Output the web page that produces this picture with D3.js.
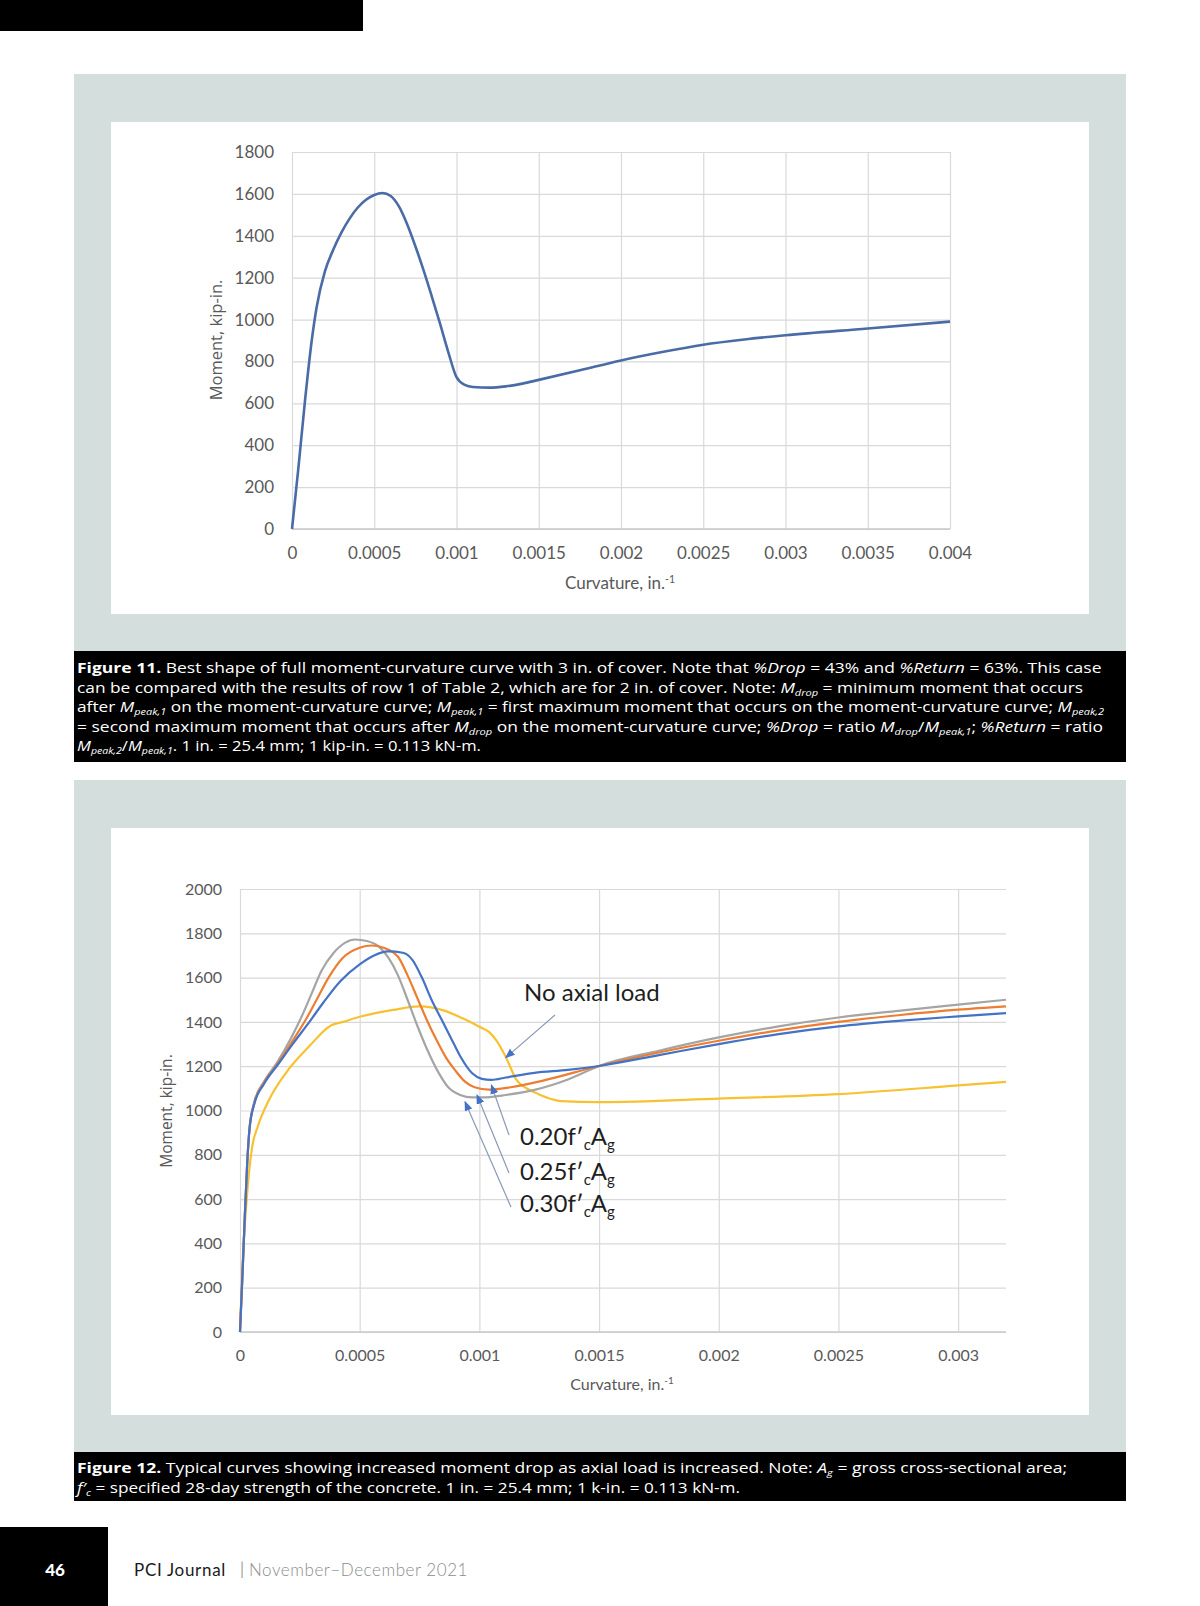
<!DOCTYPE html>
<html><head><meta charset="utf-8">
<script src="https://cdn.jsdelivr.net/npm/d3@7"></script>
<style>
html,body{margin:0;padding:0;}
body{width:1200px;height:1606px;position:relative;background:#fff;overflow:hidden;font-family:Lato,sans-serif;}
#page{position:absolute;left:0;top:0;}
.ln{position:absolute;left:77px;white-space:nowrap;color:#fff;font-family:'Open Sans',sans-serif;font-size:14.2px;line-height:19px;height:19px;transform-origin:0 50%;}
.ln b{font-weight:700;}
.ln sub{font-size:9px;vertical-align:-3px;line-height:0;}
.ft{position:absolute;white-space:nowrap;font-family:Lato,sans-serif;font-size:17px;line-height:20px;}
</style></head><body>
<svg id="page" width="1200" height="1606"></svg>
<div id="caps"></div>
<script>
// ---------------- DATA ----------------
// Figure 11
const fig11Curv = [0, 0.00004, 0.00008, 0.00012, 0.00015, 0.0002, 0.00025, 0.0003, 0.00035, 0.0004, 0.00045, 0.0005, 0.00055, 0.0006, 0.00065, 0.0007, 0.00075, 0.0008, 0.00085, 0.0009, 0.00095, 0.001, 0.00105, 0.0011, 0.0012, 0.0013, 0.0014, 0.0015, 0.00175, 0.002, 0.00225, 0.0025, 0.00275, 0.003, 0.0035, 0.004];
const fig11Moment = [0, 300, 620, 900, 1060, 1230, 1332, 1415, 1482, 1535, 1572, 1595, 1604, 1590, 1540, 1455, 1350, 1235, 1110, 980, 845, 725, 688, 678, 675, 681, 694, 712, 758, 805, 845, 880, 905, 925, 957, 990];
const fig11YTicks = [0, 200, 400, 600, 800, 1000, 1200, 1400, 1600, 1800];
const fig11XTicks = [0, 0.0005, 0.001, 0.0015, 0.002, 0.0025, 0.003, 0.0035, 0.004];
const fig11XLabels = ["0", "0.0005", "0.001", "0.0015", "0.002", "0.0025", "0.003", "0.0035", "0.004"];

// Figure 12
const curv020 = [0, 0.00001, 0.00002, 0.00003, 0.00004, 0.00006, 0.0001, 0.00016, 0.00022, 0.00029, 0.00035, 0.00042, 0.0005, 0.00056, 0.00062, 0.00068, 0.00072, 0.00076, 0.0008, 0.00084, 0.00088, 0.00092, 0.00097, 0.00101, 0.00105, 0.00111, 0.00123, 0.00137, 0.0015, 0.00175, 0.002, 0.00225, 0.0025, 0.00275, 0.003, 0.0032];
const moment020 = [0, 250, 520, 760, 920, 1030, 1120, 1210, 1300, 1400, 1490, 1585, 1660, 1700, 1718, 1712, 1680, 1600, 1500, 1415, 1330, 1245, 1168, 1143, 1138, 1149, 1170, 1183, 1201, 1250, 1300, 1345, 1380, 1405, 1425, 1440];
const curv025 = [0, 0.00001, 0.00002, 0.00003, 0.00004, 0.00006, 0.0001, 0.00016, 0.00022, 0.00028, 0.00032, 0.00037, 0.00043, 0.0005, 0.00055, 0.0006, 0.00066, 0.0007, 0.00074, 0.00078, 0.00082, 0.00086, 0.0009, 0.00094, 0.00098, 0.00104, 0.00113, 0.00127, 0.0015, 0.00175, 0.002, 0.00225, 0.0025, 0.00275, 0.003, 0.0032];
const moment025 = [0, 250, 520, 760, 920, 1035, 1125, 1215, 1315, 1420, 1500, 1600, 1690, 1735, 1745, 1735, 1694, 1610, 1510, 1410, 1320, 1240, 1180, 1130, 1105, 1094, 1105, 1136, 1201, 1262, 1315, 1362, 1400, 1430, 1455, 1470];
const curv030 = [0, 0.00001, 0.00002, 0.00003, 0.00004, 0.00006, 0.0001, 0.00016, 0.00021, 0.00026, 0.0003, 0.00034, 0.00039, 0.00044, 0.00048, 0.00053, 0.00058, 0.00062, 0.00066, 0.0007, 0.00074, 0.00078, 0.00083, 0.00087, 0.00092, 0.00097, 0.00101, 0.00111, 0.00123, 0.00137, 0.0015, 0.00175, 0.002, 0.00225, 0.0025, 0.00275, 0.003, 0.0032];
const moment030 = [0, 250, 520, 760, 920, 1040, 1130, 1225, 1320, 1430, 1530, 1630, 1710, 1758, 1772, 1765, 1740, 1690, 1610, 1500, 1385, 1280, 1170, 1105, 1070, 1059, 1059, 1070, 1093, 1140, 1201, 1270, 1330, 1380, 1420, 1450, 1478, 1500];
const curvNoAxial = [0, 0.00001, 0.000028, 0.00005, 0.000075, 0.00012, 0.00019, 0.00029, 0.00038, 0.00043, 0.0005, 0.00064, 0.00075, 0.00085, 0.00093, 0.001, 0.00104, 0.00107, 0.00111, 0.001155, 0.0012, 0.001245, 0.0013, 0.00134, 0.0015, 0.002, 0.0025, 0.003, 0.0032];
const momentNoAxial = [0, 290, 600, 830, 930, 1045, 1167, 1291, 1384, 1400, 1423, 1454, 1470, 1452, 1416, 1378, 1355, 1318, 1243, 1138, 1098, 1075, 1052, 1042, 1038, 1054, 1074, 1113, 1129];
const fig12YTicks = [0, 200, 400, 600, 800, 1000, 1200, 1400, 1600, 1800, 2000];
const fig12XTicks = [0, 0.0005, 0.001, 0.0015, 0.002, 0.0025, 0.003];
const fig12XLabels = ["0", "0.0005", "0.001", "0.0015", "0.002", "0.0025", "0.003"];

// ---------------- PAGE ----------------
const PANEL = "#d4dedd";
const svg = d3.select("#page");
function rect(x, y, w, h, fill) {
  svg.append("rect").attr("x", x).attr("y", y).attr("width", w).attr("height", h).attr("fill", fill);
}
rect(0, 0, 363, 31, "#000");
rect(74, 74, 1052, 577, PANEL);
rect(111, 122, 978, 492, "#fff");
rect(74, 651, 1052, 111, "#000");
rect(74, 780, 1052, 672, PANEL);
rect(111, 828, 978, 587, "#fff");
rect(74, 1452, 1052, 49, "#000");
rect(0, 1527, 108, 79, "#000");

const GRID = "#d9d9d9";
const LABEL = "#595959";

function drawAxes(g, x, y, xTicks, xLabels, yTicks, fs, xLabOff, yLabOff, rightEdge) {
  const x0 = x(0), x1 = rightEdge;
  const [yb, yt] = y.range();
  const ya = g.append("g").attr("transform", `translate(${x0},0)`)
    .call(d3.axisLeft(y).tickValues(yTicks).tickSize(-(x1 - x0)).tickPadding(yLabOff).tickFormat(d => String(d)));
  ya.select(".domain").remove();
  ya.selectAll("line").attr("stroke", GRID).attr("stroke-width", 1.2);
  ya.selectAll("text").attr("fill", LABEL).style("font-family", "Lato").style("font-size", fs + "px");
  const xa = g.append("g").attr("transform", `translate(0,${yb})`)
    .call(d3.axisBottom(x).tickValues(xTicks).tickSize(-(yb - yt)).tickPadding(0).tickFormat((d, i) => xLabels[i]));
  xa.select(".domain").remove();
  xa.selectAll("line").attr("stroke", GRID).attr("stroke-width", 1.2);
  xa.selectAll("text").attr("fill", LABEL).attr("y", xLabOff).attr("dy", "0.35em")
    .style("font-family", "Lato").style("font-size", fs + "px");
  g.append("line").attr("x1", x0).attr("x2", x1).attr("y1", yb).attr("y2", yb).attr("stroke", "#c8c8c8").attr("stroke-width", 1.3);
}

function axisTitles(g, cx, cy, xTitleFs, yx, yy, yTitleFs) {
  const t = g.append("text").attr("x", cx).attr("y", cy).attr("dy", "0.35em").attr("text-anchor", "middle")
    .attr("fill", LABEL).style("font-family", "Lato").style("font-size", xTitleFs + "px");
  t.append("tspan").text("Curvature, in.");
  t.append("tspan").attr("dy", "-0.55em").style("font-size", (xTitleFs * 0.62) + "px").text("-1");
  g.append("text").attr("transform", `translate(${yx},${yy}) rotate(-90)`).attr("dy", "0.35em")
    .attr("text-anchor", "middle").attr("fill", LABEL)
    .style("font-family", "'Open Sans'").style("font-size", yTitleFs + "px").text("Moment, kip-in.");
}

// ---------------- FIGURE 11 ----------------
{
  const g = svg.append("g");
  const x = d3.scaleLinear().domain([0, 0.004]).range([292, 950]);
  const y = d3.scaleLinear().domain([0, 1800]).range([529, 152]);
  drawAxes(g, x, y, fig11XTicks, fig11XLabels, fig11YTicks, 17, 24, 18, 950);
  axisTitles(g, 620, 583, 17, 216, 340, 16.5);
  const pts = fig11Curv.map((c, i) => [c, fig11Moment[i]]);
  g.append("path").datum(pts)
    .attr("d", d3.line().x(d => x(d[0])).y(d => y(d[1])).curve(d3.curveMonotoneX))
    .attr("fill", "none").attr("stroke", "#4a6ba6").attr("stroke-width", 2.6).attr("stroke-linejoin", "round");
}

// ---------------- FIGURE 12 ----------------
{
  const g = svg.append("g");
  const x = d3.scaleLinear().domain([0, 0.0032]).range([240, 1006]);
  const y = d3.scaleLinear().domain([0, 2000]).range([1332, 889]);
  drawAxes(g, x, y, fig12XTicks, fig12XLabels, fig12YTicks, 16, 23.5, 18, 1006);
  axisTitles(g, 622, 1384, 16, 167, 1111, 15.5);
  const series = [
    { c: curvNoAxial, m: momentNoAxial, col: "#f7c131" },
    { c: curv030, m: moment030, col: "#a5a5a5" },
    { c: curv025, m: moment025, col: "#ed7d31" },
    { c: curv020, m: moment020, col: "#4472c4" }
  ];
  const line = d3.line().x(d => x(d[0])).y(d => y(d[1])).curve(d3.curveMonotoneX);
  series.forEach(s => {
    g.append("path").datum(s.c.map((c, i) => [c, s.m[i]]))
      .attr("d", line).attr("fill", "none").attr("stroke", s.col).attr("stroke-width", 2.2).attr("stroke-linejoin", "round");
  });

  const defs = svg.append("defs");
  defs.append("marker").attr("id", "ah").attr("viewBox", "0 0 10 8").attr("refX", 9).attr("refY", 4)
    .attr("markerWidth", 10).attr("markerHeight", 8).attr("markerUnits", "userSpaceOnUse").attr("orient", "auto")
    .append("path").attr("d", "M0,0 L10,4 L0,8 Z").attr("fill", "#4472c4");
  const arrows = [
    { from: [555, 1015], to: [x(0.00111), y(1243) + 1] },
    { from: [509, 1135], to: [x(0.00105), y(1138) + 5] },
    { from: [509, 1173], to: [x(0.00099), y(1093) + 5] },
    { from: [511, 1207], to: [x(0.00094), y(1062) + 5] }
  ];
  arrows.forEach(a => {
    g.append("line").attr("x1", a.from[0]).attr("y1", a.from[1]).attr("x2", a.to[0]).attr("y2", a.to[1])
      .attr("stroke", "#8a9ab5").attr("stroke-width", 1.2).attr("marker-end", "url(#ah)");
  });
  g.append("text").attr("x", 524).attr("y", 1001).attr("fill", "#1e1e1e")
    .style("font-family", "Lato").style("font-size", "24px").text("No axial load");
  const labs = [["0.20", 1145], ["0.25", 1180], ["0.30", 1212]];
  labs.forEach(([v, by]) => {
    const t = g.append("text").attr("x", 520).attr("y", by).attr("fill", "#1e1e1e")
      .style("font-family", "Lato").style("font-size", "24px");
    t.append("tspan").text(v + "f\u2032");
    t.append("tspan").attr("dy", 5).style("font-size", "15px").text("c");
    t.append("tspan").attr("dy", -5).text("A");
    t.append("tspan").attr("dy", 5).style("font-size", "15px").text("g");
  });
}

// ---------------- CAPTIONS (HTML text) ----------------
const caps = document.getElementById("caps");
const capLines = [
  { html: '<b>Figure 11.</b> Best shape of full moment-curvature curve with 3 in. of cover. Note that <i>%Drop</i> = 43% and <i>%Return</i> = 63%. This case', cy: 667.5, right: 1101.5 },
  { html: 'can be compared with the results of row 1 of Table 2, which are for 2 in. of cover. Note: <i>M</i><sub><i>drop</i></sub> = minimum moment that occurs', cy: 687, right: 1083 },
  { html: 'after <i>M</i><sub><i>peak,1</i></sub> on the moment-curvature curve; <i>M</i><sub><i>peak,1</i></sub> = first maximum moment that occurs on the moment-curvature curve; <i>M</i><sub><i>peak,2</i></sub>', cy: 706.5, right: 1104 },
  { html: '= second maximum moment that occurs after <i>M</i><sub><i>drop</i></sub> on the moment-curvature curve; <i>%Drop</i> = ratio <i>M</i><sub><i>drop</i></sub>/<i>M</i><sub><i>peak,1</i></sub>; <i>%Return</i> = ratio', cy: 726, right: 1103 },
  { html: '<i>M</i><sub><i>peak,2</i></sub>/<i>M</i><sub><i>peak,1</i></sub>. 1 in. = 25.4 mm; 1 kip-in. = 0.113 kN-m.', cy: 745.5, right: 481 },
  { html: '<b>Figure 12.</b> Typical curves showing increased moment drop as axial load is increased. Note: <i>A</i><sub><i>g</i></sub> = gross cross-sectional area;', cy: 1467.5, right: 1067 },
  { html: '<i>f\u2032</i><sub><i>c</i></sub> = specified 28-day strength of the concrete. 1 in. = 25.4 mm; 1 k-in. = 0.113 kN-m.', cy: 1487, right: 740 }
];
function fit(el, target) {
  const w = el.getBoundingClientRect().width;
  const n = el.textContent.length;
  const ls = (target - w) / n;
  el.style.letterSpacing = Math.max(-1.5, Math.min(2, ls)) + "px";
}
function stretch(el, target) {
  const w = el.getBoundingClientRect().width;
  el.style.transform = `scaleX(${target / w})`;
}
capLines.forEach(l => {
  const d = document.createElement("div");
  d.className = "ln";
  d.innerHTML = l.html;
  d.style.top = (l.cy - 9.5) + "px";
  caps.appendChild(d);
  stretch(d, l.right - 77);
});

// ---------------- FOOTER ----------------
function ft(text, left, cy, color, weight, target, center) {
  const d = document.createElement("div");
  d.className = "ft";
  d.textContent = text;
  d.style.color = color;
  d.style.fontWeight = weight;
  d.style.top = (cy - 10) + "px";
  caps.appendChild(d);
  if (target) fit(d, target);
  if (center) {
    const w = d.getBoundingClientRect().width;
    d.style.left = (left - w / 2) + "px";
  } else d.style.left = left + "px";
}
ft("46", 55, 1570, "#fff", 900, 0, true);
ft("PCI Journal", 134, 1570, "#1a1a1a", 400, 92, false);
ft("|", 240, 1569, "#555", 300, 0, false);
ft("November\u2013December 2021", 249, 1570, "#8c8c8c", 300, 219, false);
</script>
</body></html>
